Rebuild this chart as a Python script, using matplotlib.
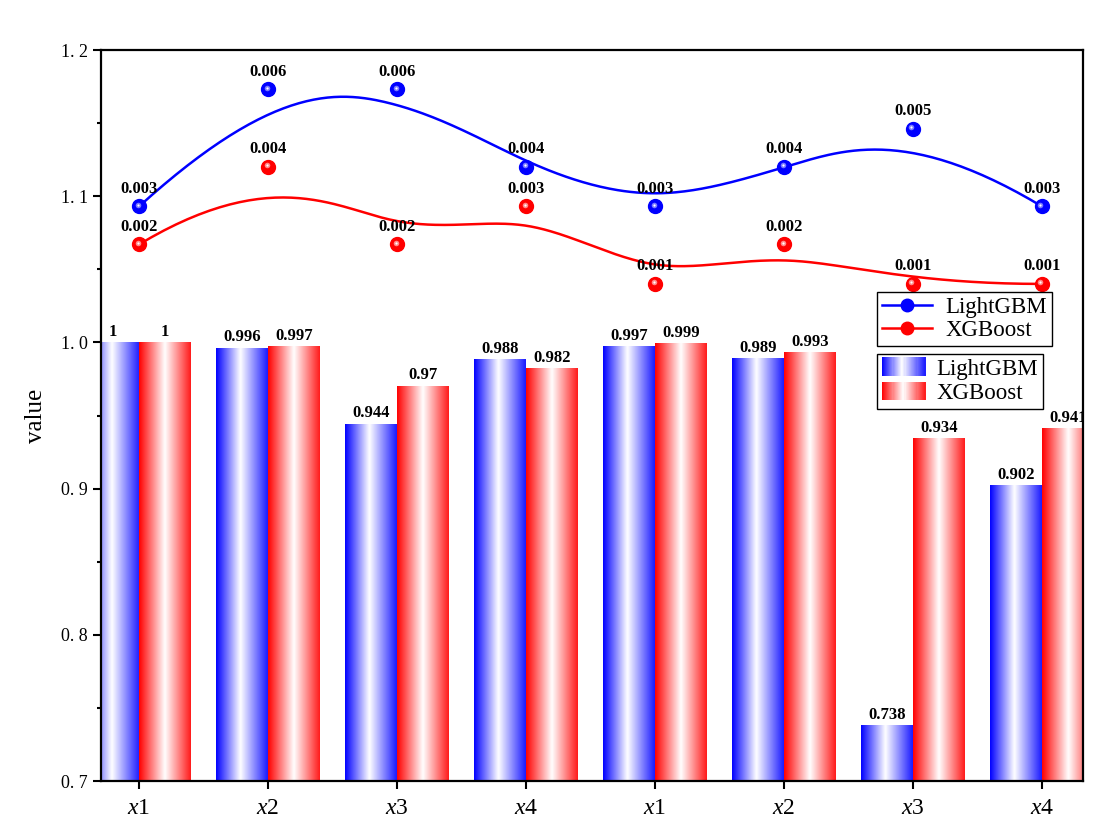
import numpy as np
import matplotlib
matplotlib.use("Agg")
import matplotlib.pyplot as plt
import matplotlib.transforms as mtransforms
from matplotlib.colors import LinearSegmentedColormap
from matplotlib.legend_handler import HandlerBase
from matplotlib.patches import Rectangle

plt.rcParams['font.family'] = ['Liberation Serif', 'DejaVu Serif']
plt.rcParams['mathtext.fontset'] = 'custom'
plt.rcParams['mathtext.rm'] = 'Liberation Serif'
plt.rcParams['mathtext.it'] = 'Liberation Serif:italic'

# data
categories = ['x1', 'x2', 'x3', 'x4', 'x1', 'x2', 'x3', 'x4']
lgbm_bar = [1, 0.996, 0.944, 0.988, 0.997, 0.989, 0.738, 0.902]
xgb_bar = [1, 0.997, 0.97, 0.982, 0.999, 0.993, 0.934, 0.941]
lgbm_bar_text = ['1', '0.996', '0.944', '0.988', '0.997', '0.989', '0.738', '0.902']
xgb_bar_text = ['1', '0.997', '0.97', '0.982', '0.999', '0.993', '0.934', '0.941']
lgbm_pt = [1.093, 1.173, 1.173, 1.120, 1.093, 1.120, 1.146, 1.093]
xgb_pt = [1.067, 1.120, 1.067, 1.093, 1.040, 1.067, 1.040, 1.040]
lgbm_pt_text = ['0.003', '0.006', '0.006', '0.004', '0.003', '0.004', '0.005', '0.003']
xgb_pt_text = ['0.002', '0.004', '0.002', '0.003', '0.001', '0.002', '0.001', '0.001']
yticks = [0.7, 0.8, 0.9, 1.0, 1.1, 1.2]
ytick_text = ['0. 7', '0. 8', '0. 9', '1. 0', '1. 1', '1. 2']

BLUE = '#0000ff'
RED = '#ff0000'
blue_cm = LinearSegmentedColormap.from_list('b', [(0, BLUE), (0.47, '#ffffff'), (1, '#1a1aff')])
red_cm = LinearSegmentedColormap.from_list('r', [(0, RED), (0.5, '#ffffff'), (1, '#ff1a1a')])


# clamped cubic B-spline using the points as control points (Origin "B-Spline" line)
def bspline(px, py, n=300, k=3):
    m = len(px)
    t = np.concatenate([[0] * k, np.arange(m - k + 1), [m - k] * k]).astype(float)
    u = np.linspace(0, m - k, n)
    u[-1] -= 1e-9
    N = np.zeros((n, len(t) - 1))
    for i in range(len(t) - 1):
        N[:, i] = (t[i] <= u) & (u < t[i + 1])
    for d in range(1, k + 1):
        Nn = np.zeros((n, len(t) - 1 - d))
        for i in range(len(t) - 1 - d):
            a = (u - t[i]) / (t[i + d] - t[i]) if t[i + d] != t[i] else 0
            b = (t[i + d + 1] - u) / (t[i + d + 1] - t[i + 1]) if t[i + d + 1] != t[i + 1] else 0
            Nn[:, i] = a * N[:, i] + b * N[:, i + 1]
        N = Nn
    return N @ np.asarray(px, float), N @ np.asarray(py, float)


class GradientHandler(HandlerBase):
    def __init__(self, cmap):
        super().__init__()
        self.cmap = cmap

    def create_artists(self, legend, orig_handle, xdescent, ydescent, width, height, fontsize, trans):
        arts = []
        steps = 40
        for s in range(steps):
            r = Rectangle((-xdescent + width * s / steps, -ydescent - 1), width / steps + 0.3, height + 2,
                          facecolor=self.cmap((s + 0.5) / steps), edgecolor='none', transform=trans)
            arts.append(r)
        return arts


fig = plt.figure(figsize=(11.05, 8.26), dpi=100)
ax = fig.add_axes([101 / 1105, 45 / 826, 982 / 1105, 731 / 826])

x = np.arange(len(categories))
w = 0.4
ax.set_xlim(-0.295, 7.318)
ax.set_ylim(0.7, 1.2)

b1 = ax.bar(x - w / 2, lgbm_bar, w, facecolor='none', edgecolor='none')
b2 = ax.bar(x + w / 2, xgb_bar, w, facecolor='none', edgecolor='none')
grad = np.linspace(0, 1, 256).reshape(1, -1)
for bars, cm in ((b1, blue_cm), (b2, red_cm)):
    for r in bars:
        x0, y0 = r.get_x(), 0.7
        ax.imshow(grad, cmap=cm, extent=(x0, x0 + r.get_width(), y0, r.get_height()),
                  aspect='auto', interpolation='bicubic', zorder=1)
ax.set_xlim(-0.295, 7.318)
ax.set_ylim(0.7, 1.2)

lab_kw = dict(fontsize=12, fontweight='bold', clip_on=True)
ax.bar_label(b1, labels=lgbm_bar_text, padding=2, **lab_kw)
ax.bar_label(b2, labels=xgb_bar_text, padding=2, **lab_kw)

# smoothed lines with sphere-like markers
for pts, col, light, txt in ((lgbm_pt, BLUE, '#7a7aff', lgbm_pt_text), (xgb_pt, RED, '#ff8a8a', xgb_pt_text)):
    cx, cy = bspline(x, pts)
    ax.plot(cx, cy, color=col, lw=1.8, zorder=3)
    ax.plot(x, pts, 'o', color=col, ms=10, mec=col, zorder=4)
    hl = mtransforms.offset_copy(ax.transData, fig=fig, x=-1.5, y=1.5, units='dots')
    ax.plot(x, pts, 'o', color=light, ms=4, mew=0, zorder=5, transform=hl)
    ax.plot(x, pts, 'o', color='white', ms=1.6, mew=0, zorder=6, transform=hl)
    for xi, yi, t in zip(x, pts, txt):
        ax.annotate(t, (xi, yi), xytext=(0, 7), textcoords='offset points', ha='center', va='bottom',
                    fontsize=12, fontweight='bold', zorder=7)

ax.set_xticks(x)
ax.set_xticklabels(['$x$' + c[1:] for c in categories], fontsize=17)
ax.set_yticks(yticks)
ax.set_yticklabels(ytick_text, fontsize=13)
ax.set_yticks(np.arange(0.75, 1.2, 0.1), minor=True)
ax.tick_params(axis='both', which='major', direction='out', length=6, width=1.5)
ax.tick_params(axis='y', which='minor', direction='out', length=3, width=1.5)
ax.tick_params(axis='x', pad=6)
ax.set_ylabel('value', fontsize=18, labelpad=10)
for s in ax.spines.values():
    s.set_linewidth(1.6)
    s.set_zorder(8)

lh1, = plt.plot([], [], '-o', color=BLUE, lw=1.8, ms=9)
lh2, = plt.plot([], [], '-o', color=RED, lw=1.8, ms=9)
leg1 = ax.legend([lh1, lh2], ['LightGBM', 'XGBoost'], loc='upper left',
                 bbox_to_anchor=(877 / 1105, 1 - 292 / 826), bbox_transform=fig.transFigure,
                 fontsize=16.5, frameon=True, fancybox=False, edgecolor='black', framealpha=1,
                 borderaxespad=0, borderpad=0.2, labelspacing=0.1, handlelength=2.2,
                 handletextpad=0.6)
leg1.get_frame().set_linewidth(1.0)
leg1.set_zorder(10)
ax.add_artist(leg1)

p1 = Rectangle((0, 0), 1, 1)
p2 = Rectangle((0, 0), 1, 1)
leg2 = ax.legend([p1, p2], ['LightGBM', 'XGBoost'], loc='upper left',
                 bbox_to_anchor=(877 / 1105, 1 - 354 / 826), bbox_transform=fig.transFigure,
                 handler_map={p1: GradientHandler(blue_cm), p2: GradientHandler(red_cm)},
                 fontsize=16.5, frameon=True, fancybox=False, edgecolor='black', framealpha=1,
                 borderaxespad=0, borderpad=0.2, labelspacing=0.15, handlelength=1.9,
                 handletextpad=0.5)
leg2.get_frame().set_linewidth(1.0)
leg2.set_zorder(10)

fig.savefig('out.png', dpi=100)
